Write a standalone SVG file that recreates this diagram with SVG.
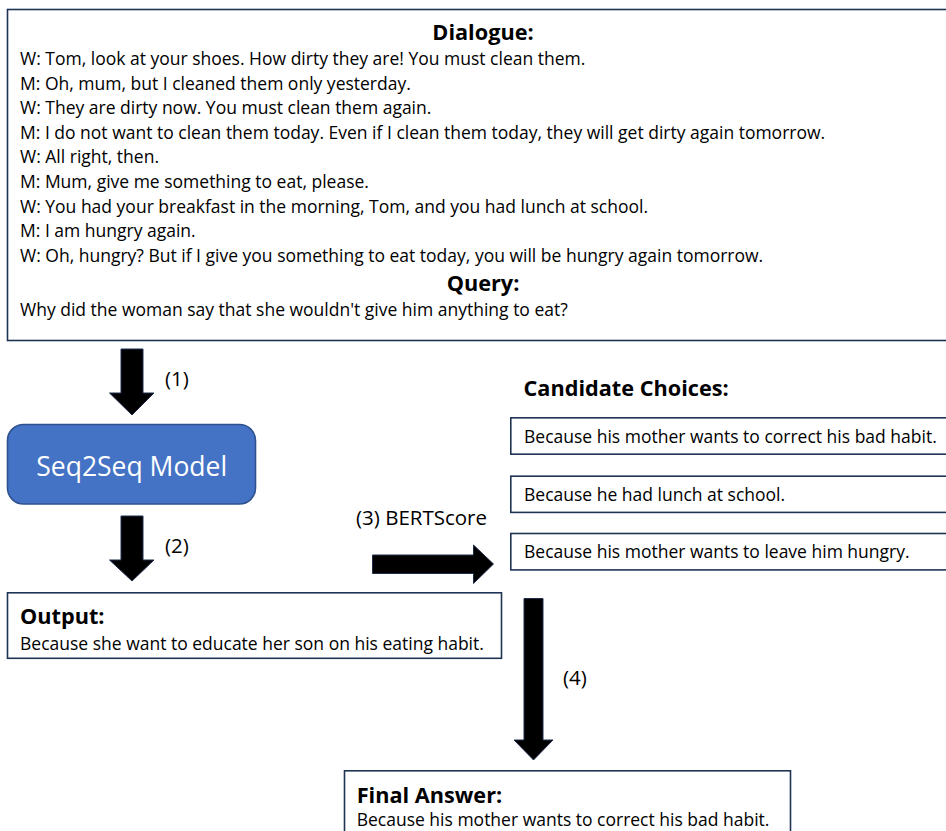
<svg xmlns="http://www.w3.org/2000/svg" width="946" height="831" viewBox="0 0 946 831">
<style>
.box{fill:#ffffff;stroke:#1f3354;stroke-width:1.6}
.t{font-family:"Open Sans","Liberation Sans",sans-serif;font-size:17.5px;fill:#000}
.h{font-family:"Open Sans","Liberation Sans",sans-serif;font-size:21.7px;font-weight:bold;fill:#000}
.lbl{font-family:"Open Sans","Liberation Sans",sans-serif;font-size:20.5px;fill:#000}
.arrow{fill:#000;stroke:#1f2d4d;stroke-width:1}
</style>
<rect x="0" y="0" width="946" height="831" fill="#ffffff"/>
<g id="dialogue">
<rect class="box" x="7.5" y="9.5" width="960" height="331"/>
<text class="h" x="483" y="40" text-anchor="middle">Dialogue:</text>
<text class="t" x="20" y="65">W: Tom, look at your shoes. How dirty they are! You must clean them.</text>
<text class="t" x="20" y="89.6">M: Oh, mum, but I cleaned them only yesterday.</text>
<text class="t" x="20" y="114.2">W: They are dirty now. You must clean them again.</text>
<text class="t" x="20" y="138.8">M: I do not want to clean them today. Even if I clean them today, they will get dirty again tomorrow.</text>
<text class="t" x="20" y="163.4">W: All right, then.</text>
<text class="t" x="20" y="188">M: Mum, give me something to eat, please.</text>
<text class="t" x="20" y="212.6">W: You had your breakfast in the morning, Tom, and you had lunch at school.</text>
<text class="t" x="20" y="237.2">M: I am hungry again.</text>
<text class="t" x="20" y="261.8">W: Oh, hungry? But if I give you something to eat today, you will be hungry again tomorrow.</text>
<text class="h" x="483" y="290.5" text-anchor="middle">Query:</text>
<text class="t" x="20" y="316">Why did the woman say that she wouldn't give him anything to eat?</text>
</g>
<g id="model">
<rect x="7.5" y="424.5" width="248" height="79.5" rx="16" ry="16" fill="#4472c4" stroke="#2f528f" stroke-width="1.6"/>
<text x="131.7" y="475.5" text-anchor="middle" font-family="'Open Sans','Liberation Sans',sans-serif" font-size="26.5" fill="#ffffff">Seq2Seq Model</text>
</g>
<g id="output">
<rect class="box" x="7.5" y="592.8" width="494" height="65.5"/>
<text class="h" x="20" y="623.5">Output:</text>
<text class="t" x="20" y="649.5">Because she want to educate her son on his eating habit.</text>
</g>
<g id="candidates">
<text class="h" x="523.5" y="395.7">Candidate Choices:</text>
<g id="choice1">
<rect class="box" x="510.8" y="417.8" width="450" height="36.4"/>
<text class="t" x="524" y="442.5">Because his mother wants to correct his bad habit.</text>
</g>
<g id="choice2">
<rect class="box" x="510.8" y="476.2" width="450" height="36.2"/>
<text class="t" x="524" y="500.5">Because he had lunch at school.</text>
</g>
<g id="choice3">
<rect class="box" x="510.8" y="533.5" width="450" height="36.4"/>
<text class="t" x="524" y="558">Because his mother wants to leave him hungry.</text>
</g>
</g>
<g id="final">
<rect class="box" x="344.5" y="770.8" width="446" height="80"/>
<text class="h" x="356.7" y="802.7">Final Answer:</text>
<text class="t" x="356.7" y="826">Because his mother wants to correct his bad habit.</text>
</g>
<g id="connectors">
<polygon class="arrow" points="121,349 143,349 143,393 154,393 132,415 109.5,393 121,393"/>
<text class="lbl" x="165" y="386">(1)</text>
<polygon class="arrow" points="121,516 143,516 143,560 154,560 132,581 109.5,560 121,560"/>
<text class="lbl" x="165" y="553">(2)</text>
<polygon class="arrow" points="372.5,555 473.5,555 473.5,545 493.5,564 473.5,583.5 473.5,573.5 372.5,573.5"/>
<text class="lbl" x="356" y="525">(3) BERTScore</text>
<polygon class="arrow" points="524,598.5 543,598.5 543,740 553,740 533.5,760 514,740 524,740"/>
<text class="lbl" x="563" y="685">(4)</text>
</g>
</svg>
